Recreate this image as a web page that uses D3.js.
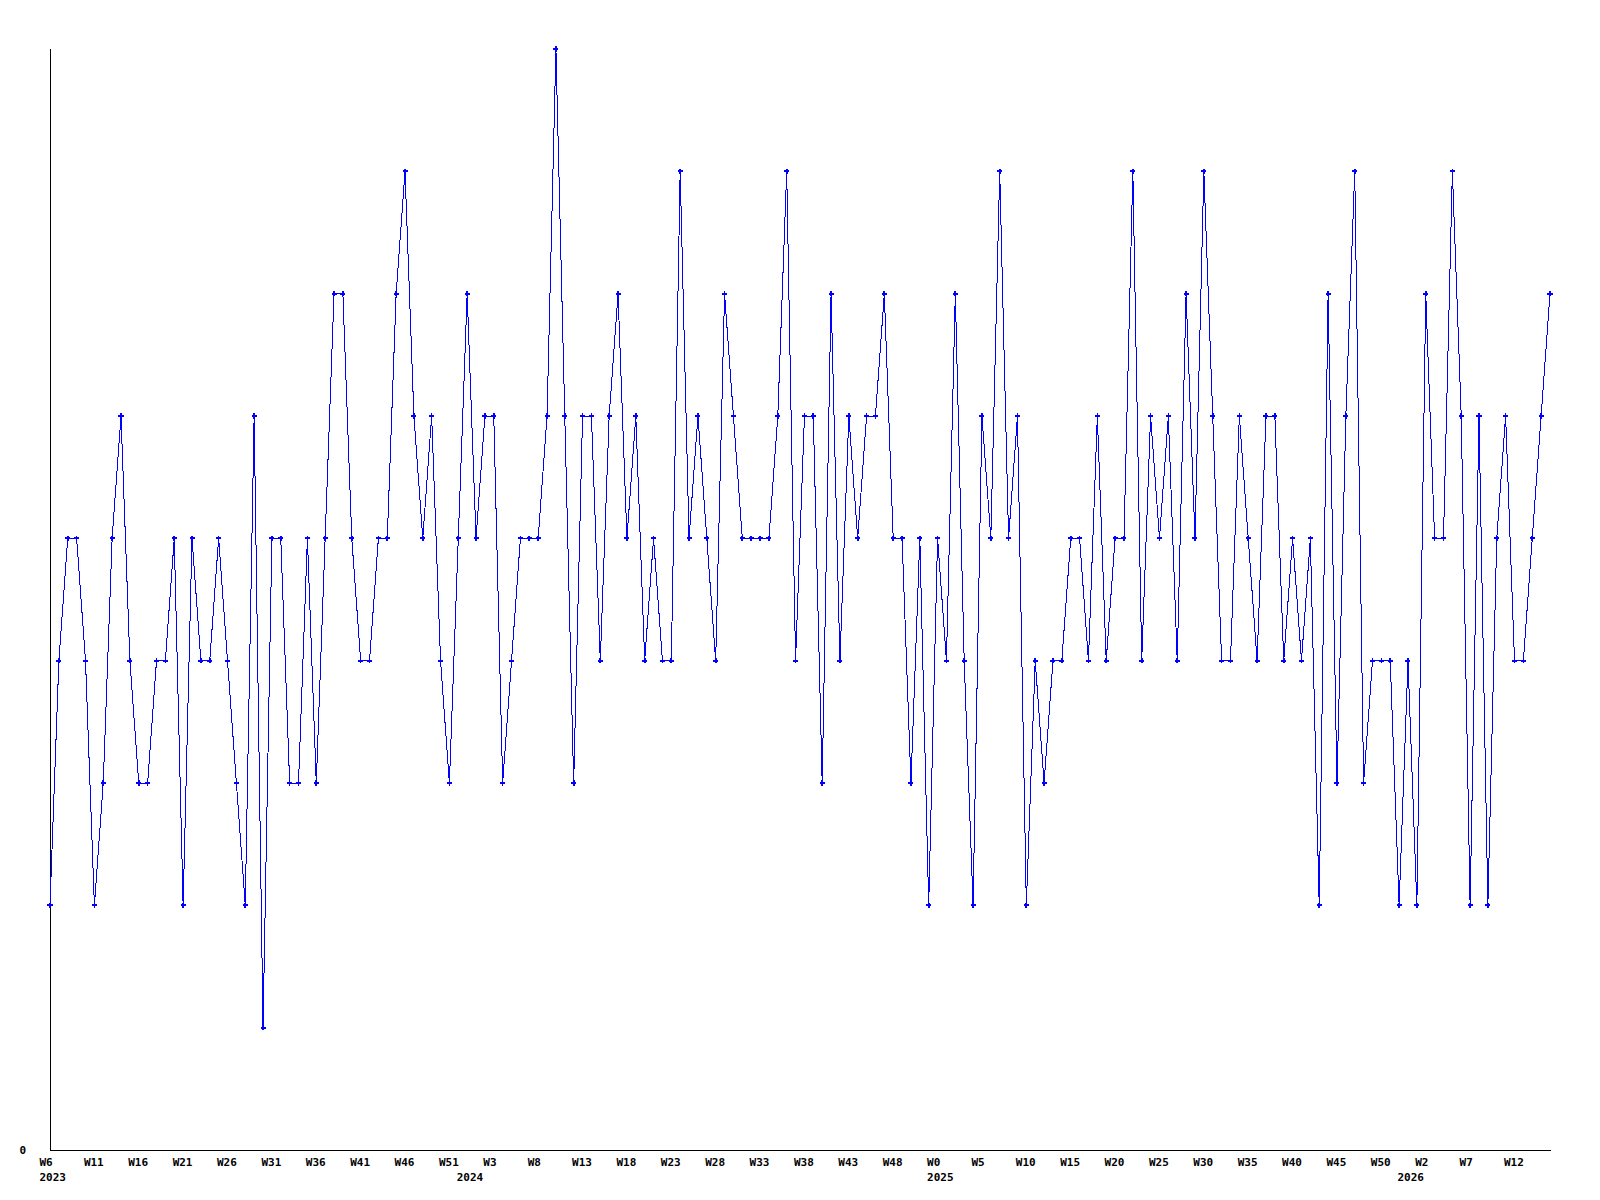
<!DOCTYPE html>
<html>
<head>
<meta charset="utf-8">
<script src="https://cdn.jsdelivr.net/npm/d3@7"></script>
<style>
  html, body { margin: 0; padding: 0; background: #fff; }
  svg { display: block; }
  text { font-family: "DejaVu Sans Mono", "Liberation Mono", monospace; font-weight: bold; font-size: 11px; fill: #000; }
</style>
</head>
<body>
<svg id="chart" width="1600" height="1200"></svg>
<script>
// ---- data ----
// week ranges: [year, firstWeek, lastWeek]
const weekRanges = [[2023, 6, 52], [2024, 0, 52], [2025, 0, 52], [2026, 0, 16]];
const values = [
  2,4,5,5,4,2,3,5,6,4,3,3,4,4,5,2,5,4,4,5,4,3,
  2,6,1,5,5,3,3,5,3,5,
  7,7,5,4,4,5,5,7,8,6,
  5,6,4,3,5,7,5,6,6,3,
  4,5,5,5,6,9,6,3,6,6,
  4,6,7,5,6,4,5,4,4,8,
  5,6,5,4,7,6,5,5,5,5,
  6,8,4,6,6,3,7,4,6,5,
  6,6,7,5,5,3,5,2,5,4,
  7,4,2,6,5,8,5,6,2,4,
  3,4,4,5,5,4,6,4,5,5,
  8,4,6,5,6,4,7,5,8,6,
  4,4,6,5,4,6,6,4,5,4,
  5,2,7,3,6,8,3,4,4,4,
  2,4,2,7,5,5,8,6,2,6,
  2,5,6,4,4,5,6,7
];
const weekTickLabels = ["W6","W11","W16","W21","W26","W31","W36","W41","W46","W51",
  "W3","W8","W13","W18","W23","W28","W33","W38","W43","W48",
  "W0","W5","W10","W15","W20","W25","W30","W35","W40","W45","W50",
  "W2","W7","W12"];
const yTickLabels = ["0"];
const yMax = 9;
const tickEvery = 5;

// categories built from week ranges
const categories = [];
weekRanges.forEach(([yr, a, b]) => { for (let w = a; w <= b; w++) categories.push({ key: yr + "-W" + w, year: yr, week: w }); });

// ---- layout ----
const svg = d3.select("#chart");
const mLeft = 50, mRight = 1550, mTop = 49, mBottom = 1150;

const x = d3.scalePoint().domain(categories.map(c => c.key)).range([mLeft, mRight]).padding(0);
const y = d3.scaleLinear().domain([0, yMax]).range([mBottom, mTop]);

// axes lines
svg.append("line").attr("x1", mLeft + 0.5).attr("x2", mLeft + 0.5).attr("y1", mTop).attr("y2", mBottom + 0.5)
  .attr("stroke", "#000").attr("stroke-width", 1).attr("shape-rendering", "crispEdges");
svg.append("line").attr("x1", mLeft).attr("x2", mRight + 1).attr("y1", mBottom + 0.5).attr("y2", mBottom + 0.5)
  .attr("stroke", "#000").attr("stroke-width", 1).attr("shape-rendering", "crispEdges");

// y tick label
svg.selectAll("text.ylab").data(yTickLabels).enter().append("text")
  .attr("class", "ylab").attr("x", 26).attr("y", d => y(+d) + 4).attr("text-anchor", "end").text(d => d);

// x tick labels (every 5th category)
const tickCats = categories.filter((c, i) => i % tickEvery === 0);
svg.selectAll("text.xlab").data(tickCats).enter().append("text")
  .attr("class", "xlab")
  .attr("x", d => x(d.key) - 10.5)
  .attr("y", 1166)
  .text((d, i) => weekTickLabels[i]);

// year labels where year changes
const yearCats = categories.filter((c, i) => i === 0 || categories[i - 1].year !== c.year);
svg.selectAll("text.yrlab").data(yearCats).enter().append("text")
  .attr("class", "yrlab")
  .attr("x", d => x(d.key) - 10.5)
  .attr("y", 1181)
  .text(d => d.year);

// line
const pts = values.map((v, i) => ({ key: categories[i].key, v }));
svg.append("path").datum(pts)
  .attr("fill", "none").attr("stroke", "#0000ff").attr("stroke-width", 1)
  .attr("shape-rendering", "crispEdges")
  .attr("d", d3.line().x(d => x(d.key)).y(d => y(d.v)));

// markers
svg.selectAll("path.mk").data(pts).enter().append("path")
  .attr("class", "mk")
  .attr("transform", d => `translate(${x(d.key)},${y(d.v)})`)
  .attr("d", d3.symbol(d3.symbolCross).size(14))
  .attr("fill", "#0000ff")
  .attr("shape-rendering", "crispEdges");
</script>
</body>
</html>
